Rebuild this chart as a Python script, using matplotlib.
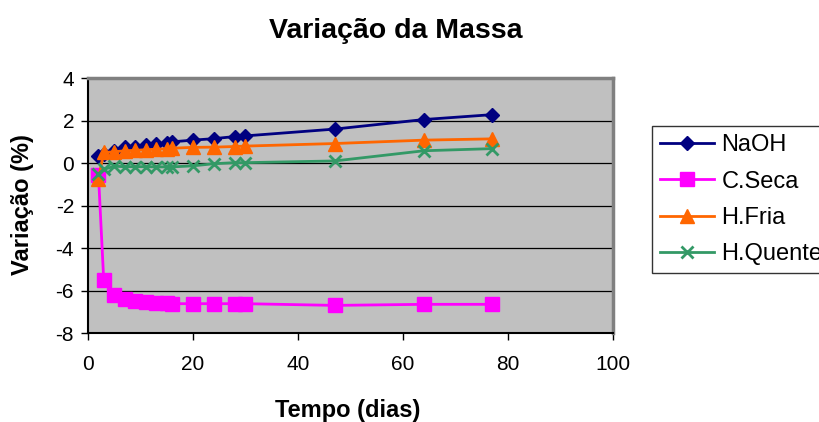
import matplotlib.pyplot as plt

plt.rcParams['font.family'] = ['Liberation Sans', 'DejaVu Sans']
plt.rcParams['axes.unicode_minus'] = False

# dias de ensaio
dias = [2, 3, 5, 7, 9, 11, 13, 15, 16, 20, 24, 28, 30, 47, 64, 77]

naoh = [0.35, 0.45, 0.58, 0.74, 0.77, 0.86, 0.9, 0.93, 1.0, 1.08, 1.15, 1.25, 1.28, 1.6, 2.05, 2.28]
c_seca = [-0.55, -5.5, -6.2, -6.4, -6.5, -6.55, -6.58, -6.6, -6.62, -6.62, -6.62, -6.62, -6.62, -6.7, -6.65, -6.65]
h_fria = [-0.75, 0.5, 0.53, 0.58, 0.6, 0.63, 0.65, 0.68, 0.7, 0.74, 0.75, 0.78, 0.8, 0.92, 1.08, 1.14]
h_quente = [-0.52, -0.3, -0.15, -0.17, -0.17, -0.17, -0.18, -0.18, -0.18, -0.13, -0.03, 0.02, 0.02, 0.1, 0.58, 0.68]

nomes = ['NaOH', 'C.Seca', 'H.Fria', 'H.Quente']
cores = ['#000080', '#FF00FF', '#FF6600', '#339966']

fig = plt.figure(figsize=(8.19, 4.22), dpi=100)
ax = fig.add_axes([0.1074, 0.2109, 0.641, 0.604])
ax.set_facecolor('#C0C0C0')

ax.plot(dias, naoh, color=cores[0], lw=2, marker='D', ms=7, label=nomes[0])
ax.plot(dias, c_seca, color=cores[1], lw=2, marker='s', ms=9.5, label=nomes[1])
ax.plot(dias, h_fria, color=cores[2], lw=2, marker='^', ms=9.5, label=nomes[2])
ax.plot(dias, h_quente, color=cores[3], lw=2, marker='x', ms=8, mew=2, label=nomes[3])

ax.set_xlim(0, 100)
ax.set_ylim(-8, 4)
ax.set_xticks(range(0, 101, 20))
ax.set_yticks(range(-8, 5, 2))
ax.grid(axis='y', color='black', lw=0.9)
ax.set_axisbelow(True)
ax.tick_params(labelsize=15, direction='out', length=5, width=1)
ax.tick_params(axis='x', pad=11)
ax.tick_params(axis='y', pad=5)

for s in ['top', 'right']:
    ax.spines[s].set_color('#808080')
    ax.spines[s].set_linewidth(2.5)
for s in ['left', 'bottom']:
    ax.spines[s].set_color('black')
    ax.spines[s].set_linewidth(1.5)

fig.text(0.4835, 0.91, 'Variação da Massa', ha='center', va='baseline', fontsize=20.5, fontweight='bold')
fig.text(0.424, 0.0118, 'Tempo (dias)', ha='center', va='baseline', fontsize=17, fontweight='bold')
fig.text(0.027, 0.516, 'Variação (%)', ha='center', va='center', rotation=90, fontsize=17, fontweight='bold')

# legenda encostada na borda direita, como no original
leg = fig.legend(loc='upper left', bbox_to_anchor=(0.796, 0.701), fontsize=17,
                 frameon=True, fancybox=False, edgecolor='black', handlelength=2.3,
                 handletextpad=0.3, borderpad=0.35, labelspacing=0.6, borderaxespad=0)
leg.get_frame().set_linewidth(1)

fig.savefig('out.png', dpi=100)
